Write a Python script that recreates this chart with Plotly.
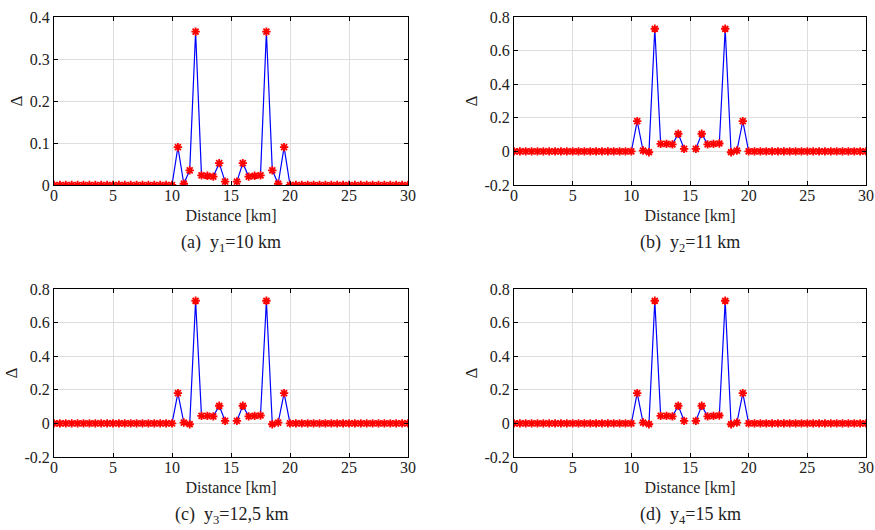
import plotly.graph_objects as go

# ---------------- data ----------------
distance_km = [i * 0.5 for i in range(61)]

# central region values (x = 10.5 ... 19.5), None = gap at 15 km
delta_a_mid = [0.09, 0.003, 0.035, 0.365, 0.023, 0.022, 0.020, 0.052, 0.008, None,
               0.008, 0.052, 0.020, 0.022, 0.023, 0.365, 0.035, 0.003, 0.09]
delta_b_mid = [0.18, 0.005, -0.005, 0.73, 0.045, 0.045, 0.042, 0.105, 0.015, None,
               0.015, 0.105, 0.042, 0.045, 0.047, 0.73, -0.005, 0.005, 0.18]
delta_c_mid = [0.18, 0.005, -0.005, 0.73, 0.045, 0.045, 0.042, 0.105, 0.015, None,
               0.015, 0.105, 0.042, 0.045, 0.047, 0.73, -0.005, 0.005, 0.18]
delta_d_mid = [0.18, 0.005, -0.005, 0.73, 0.045, 0.045, 0.042, 0.105, 0.015, None,
               0.015, 0.105, 0.042, 0.045, 0.047, 0.73, -0.005, 0.005, 0.18]

zeros_left = [0.0] * 21   # 0 ... 10 km
zeros_right = [0.0] * 21  # 20 ... 30 km

delta_a = zeros_left + delta_a_mid + zeros_right
delta_b = zeros_left + delta_b_mid + zeros_right
delta_c = zeros_left + delta_c_mid + zeros_right
delta_d = zeros_left + delta_d_mid + zeros_right

captions = ["(a)  y<sub>1</sub>=10 km", "(b)  y<sub>2</sub>=11 km",
            "(c)  y<sub>3</sub>=12,5 km", "(d)  y<sub>4</sub>=15 km"]

x_ticks = [0, 5, 10, 15, 20, 25, 30]
y_ticks_a = [0, 0.1, 0.2, 0.3, 0.4]
y_ticklabels_a = ["0", "0.1", "0.2", "0.3", "0.4"]
y_ticks_b = [-0.2, 0, 0.2, 0.4, 0.6, 0.8]
y_ticklabels_b = ["-0.2", "0", "0.2", "0.4", "0.6", "0.8"]

# ---------------- layout geometry ----------------
W, H = 875, 530
panels = [
    # (x0px, x1px, y_top_px, y_bot_px) in window pixels
    (54, 408, 17, 185),
    (514, 866, 17, 185),
    (54, 408, 289, 457),
    (514, 866, 289, 457),
]
series = [delta_a, delta_b, delta_c, delta_d]
yranges = [(0, 0.4), (-0.2, 0.8), (-0.2, 0.8), (-0.2, 0.8)]
yticks = [(y_ticks_a, y_ticklabels_a), (y_ticks_b, y_ticklabels_b),
          (y_ticks_b, y_ticklabels_b), (y_ticks_b, y_ticklabels_b)]

FONT = "Liberation Serif"
TXT = "#222222"

fig = go.Figure()
layout = dict(
    width=W, height=H,
    margin=dict(l=0, r=0, t=0, b=0, autoexpand=False),
    paper_bgcolor="white", plot_bgcolor="white",
    showlegend=False,
    font=dict(family=FONT, size=16, color=TXT),
    annotations=[],
)

for i, (p, ys, yr, (tv, tt)) in enumerate(zip(panels, series, yranges, yticks)):
    n = "" if i == 0 else str(i + 1)
    xa, ya = "x" + n, "y" + n
    x0, x1, yt, yb = p
    fig.add_trace(go.Scatter(
        x=distance_km, y=ys, xaxis=xa, yaxis=ya, mode="lines+markers",
        line=dict(color="#0000ff", width=1.2),
        marker=dict(symbol="asterisk-open", size=7, color="#ff0000",
                    line=dict(color="#ff0000", width=1.8)),
        connectgaps=False,
    ))
    layout["xaxis" + n] = dict(
        domain=[x0 / W, x1 / W], anchor=ya, range=[0, 30], automargin=False,
        tickvals=x_ticks, ticks="inside", ticklen=4, tickcolor="black",
        ticklabelstandoff=-4, ticklabeloverflow="allow",
        showline=True, linecolor="black", linewidth=1, mirror="ticks",
        showgrid=True, gridcolor="#dedede", gridwidth=1, zeroline=False,
        tickfont=dict(size=16, family=FONT, color=TXT),
        title=dict(text="Distance [km]", font=dict(size=16, family=FONT, color=TXT),
                   standoff=6),
    )
    layout["yaxis" + n] = dict(
        domain=[1 - yb / H, 1 - yt / H], anchor=xa, range=list(yr), automargin=False,
        tickvals=tv, ticktext=tt, ticks="inside", ticklen=4, tickcolor="black",
        ticklabeloverflow="allow",
        showline=True, linecolor="black", linewidth=1, mirror="ticks",
        showgrid=True, gridcolor="#dedede", gridwidth=1, zeroline=False,
        tickfont=dict(size=16, family=FONT, color=TXT),
        title=dict(text="Δ", font=dict(size=17, family=FONT, color=TXT),
                   standoff=2),
    )
    layout["annotations"].append(dict(
        text=captions[i], xref="paper", yref="paper",
        x=(x0 + x1) / 2 / W, y=1 - (yb + 58) / H, xanchor="center", yanchor="middle",
        showarrow=False, font=dict(size=18, family=FONT, color=TXT),
    ))

fig.update_layout(**layout)
fig.write_html(
    "out.html",
    config={"displayModeBar": False},
    post_script="document.body.style.margin='0';document.body.style.overflow='hidden';",
)
